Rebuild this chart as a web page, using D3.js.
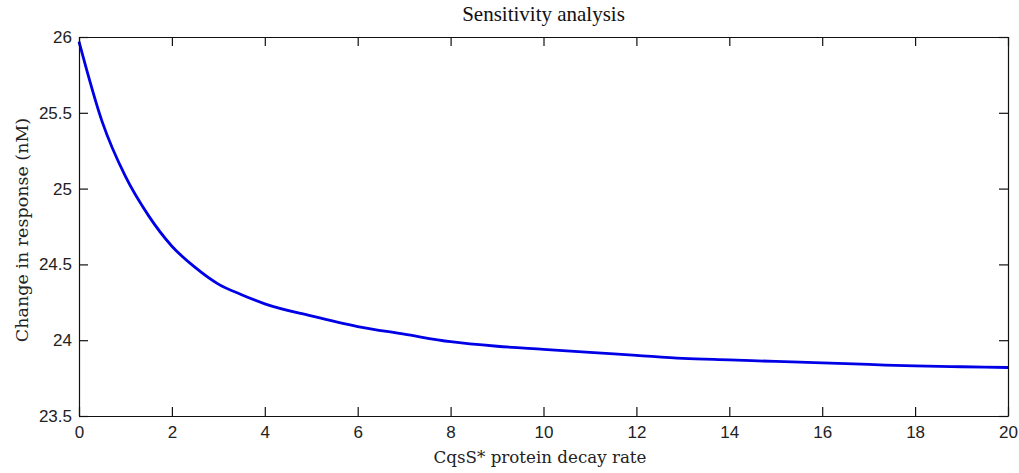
<!DOCTYPE html>
<html>
<head>
<meta charset="utf-8">
<script src="https://cdn.jsdelivr.net/npm/d3@7"></script>
<style>
  body { margin: 0; background: #fff; }
  .tick-label { font-family: "Liberation Sans", Arial, sans-serif; font-size: 17px; fill: #222; }
  .axis-title { font-family: "DejaVu Serif", serif; fill: #222; }
  .chart-title { font-family: "Liberation Serif", serif; font-size: 21px; fill: #111; }
</style>
</head>
<body>
<div class="plot"></div>
<script>
// chart data
const decayRate = [0, 0.5, 1, 1.5, 2, 2.5, 3, 3.5, 4, 5, 6, 7, 8, 9, 10, 11, 12, 13, 14, 15, 16, 17, 18, 19, 20];
const response = [25.97, 25.44, 25.08, 24.82, 24.62, 24.48, 24.37, 24.30, 24.24, 24.16, 24.09, 24.04, 23.99, 23.96, 23.94, 23.92, 23.90, 23.88, 23.87, 23.86, 23.85, 23.84, 23.83, 23.825, 23.82];
const xTicks = [0, 2, 4, 6, 8, 10, 12, 14, 16, 18, 20];
const yTicks = [23.5, 24, 24.5, 25, 25.5, 26];

const SVGWIDTH = 1019;
const SVGHEIGHT = 473;
const MARGIN = { top: 37, right: 11, bottom: 57, left: 79 };
const W = SVGWIDTH - MARGIN.left - MARGIN.right;
const H = SVGHEIGHT - MARGIN.top - MARGIN.bottom;
const TICK = 9;

let svg = d3.select('.plot').append('svg')
  .attr('width', SVGWIDTH)
  .attr('height', SVGHEIGHT);

const g = svg.append('g')
  .attr('transform', `translate(${MARGIN.left}, ${MARGIN.top})`);

let x = d3.scaleLinear().domain([0, 20]).range([0, W]);
let y = d3.scaleLinear().domain([23.5, 26]).range([H, 0]);

// curve
const pts = decayRate.map((d, i) => [d, response[i]]);
g.append('path')
  .datum(pts)
  .attr('fill', 'none')
  .attr('stroke', '#0000e6')
  .attr('stroke-width', 2.8)
  .attr('stroke-linejoin', 'round')
  .attr('d', d3.line().curve(d3.curveMonotoneX).x(d => x(d[0])).y(d => y(d[1])));

// axes, matlab style: ticks pointing inward on all four sides
const fmt = d3.format('');
g.append('g').attr('transform', `translate(0, ${H})`)
  .call(d3.axisBottom(x).tickValues(xTicks).tickSizeInner(-TICK).tickSizeOuter(0).tickPadding(10).tickFormat(fmt));
g.append('g')
  .call(d3.axisTop(x).tickValues(xTicks).tickSizeInner(-TICK).tickSizeOuter(0).tickFormat(''));
g.append('g')
  .call(d3.axisLeft(y).tickValues(yTicks).tickSizeInner(-TICK).tickSizeOuter(0).tickPadding(7).tickFormat(fmt));
g.append('g').attr('transform', `translate(${W}, 0)`)
  .call(d3.axisRight(y).tickValues(yTicks).tickSizeInner(-TICK).tickSizeOuter(0).tickFormat(''));

g.selectAll('.domain').attr('stroke', '#111').attr('stroke-width', 1.2);
g.selectAll('.tick line').attr('stroke', '#111').attr('stroke-width', 1.2);
g.selectAll('.tick text').attr('class', 'tick-label').attr('font-family', null).attr('font-size', null);

// labels
svg.append('text')
  .attr('class', 'chart-title')
  .attr('text-anchor', 'middle')
  .attr('x', MARGIN.left + W / 2)
  .attr('y', 21)
  .text('Sensitivity analysis');

svg.append('text')
  .attr('class', 'axis-title')
  .attr('font-size', 16.7)
  .attr('text-anchor', 'middle')
  .attr('x', 540)
  .attr('y', 463)
  .text('CqsS* protein decay rate');

svg.append('text')
  .attr('class', 'axis-title')
  .attr('font-size', 17.5)
  .attr('text-anchor', 'middle')
  .attr('transform', `translate(28, 230) rotate(-90)`)
  .text('Change in response (nM)');
</script>
</body>
</html>
